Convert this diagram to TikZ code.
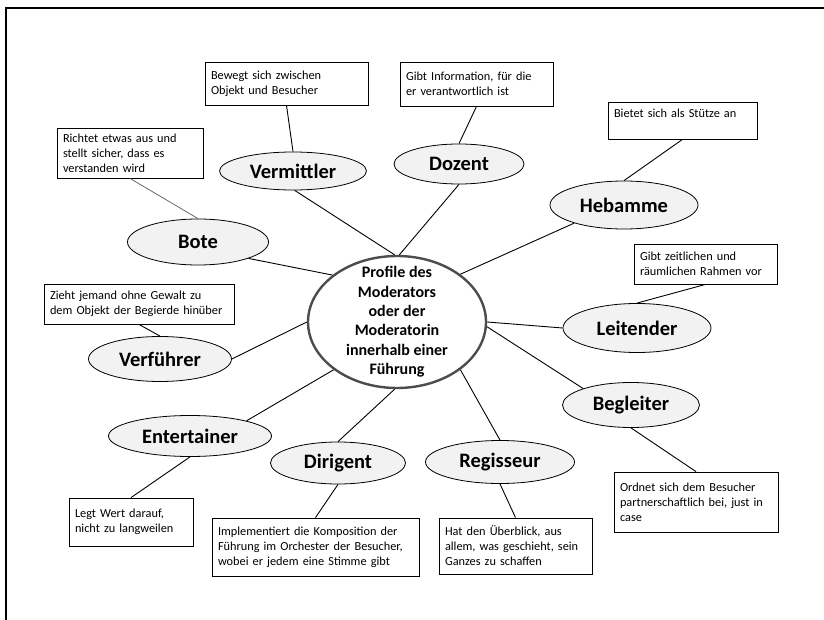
\documentclass[tikz,border=0pt]{standalone}
\usepackage{fontspec}
\setmainfont{Carlito}
\usetikzlibrary{shapes.geometric}

\begin{document}
\begin{tikzpicture}[
    x=1pt,y=-1pt,
    role/.style={ellipse,draw,fill=gray!10,line width=0.8pt,inner sep=0pt,font=\fontsize{20.5}{24}\selectfont\bfseries},
    note/.style={draw,line width=0.8pt,align=left,inner xsep=6pt,inner ysep=0pt,font=\fontsize{12.3}{15}\selectfont},
    hub/.style={ellipse,draw=gray!60!black,line width=2.4pt,fill=white,align=center,inner xsep=12pt,inner ysep=-12pt,font=\fontsize{16}{19.4}\selectfont\bfseries},
    link/.style={line width=0.9pt}
]
\useasboundingbox (0,0) rectangle (824,620);
\draw[line width=1.4pt] (6,620) -- (6,8) -- (824,8);

\node[hub,minimum width=178pt,minimum height=132pt] (prof) at (397,322) {Profile des\\Moderators\\oder der\\Moderatorin\\innerhalb einer\\Führung};

\node[role,minimum width=147pt,minimum height=38pt] (verm) at (293,171) {Vermittler};
\node[role,minimum width=130pt,minimum height=40pt] (doz) at (459,164) {Dozent};
\node[role,minimum width=148pt,minimum height=48pt] (heb) at (624,205) {Hebamme};
\node[role,minimum width=141pt,minimum height=46pt] (bote) at (198,242) {Bote};
\node[role,minimum width=148pt,minimum height=49pt] (leit) at (637,328) {Leitender};
\node[role,minimum width=143pt,minimum height=45pt] (verf) at (160,359) {Verführer};
\node[role,minimum width=137pt,minimum height=45pt] (begl) at (631,405) {Begleiter};
\node[role,minimum width=163pt,minimum height=41pt] (ent) at (190,436) {Entertainer};
\node[role,minimum width=135pt,minimum height=42pt] (dir) at (338,463) {Dirigent};
\node[role,minimum width=149pt,minimum height=43pt] (reg) at (500,462) {Regisseur};

\node[note,text width=151pt,minimum height=43pt] (vbox) at (286.5,83.5) {Bewegt sich zwischen\\Objekt und Besucher};
\node[note,text width=141pt,minimum height=44pt] (dbox) at (476.5,84) {Gibt Information, für die\\er verantwortlich ist};
\node[note,text width=137pt,minimum height=37pt] (hbox) at (682.5,120.5) {Bietet sich als Stütze an\\\mbox{}};
\node[note,text width=134pt,minimum height=50pt] (bbox) at (130,153) {Richtet etwas aus und\\stellt sicher, dass es\\verstanden wird};
\node[note,text width=178pt,minimum height=40pt] (vfbox) at (139,304) {Zieht jemand ohne Gewalt zu\\dem Objekt der Begierde hinüber};
\node[note,text width=131pt,minimum height=40pt] (lbox) at (705.5,264) {Gibt zeitlichen und\\räumlichen Rahmen vor};
\node[note,text width=152pt,minimum height=60pt] (bgbox) at (696,502) {Ordnet sich dem Besucher\\partnerschaftlich bei, just in\\case};
\node[note,text width=112pt,minimum height=48pt] (ebox) at (131,522) {Legt Wert darauf,\\nicht zu langweilen};
\node[note,text width=195pt,minimum height=58pt] (dibox) at (315.5,547) {Implementiert die Komposition der\\Führung im Orchester der Besucher,\\wobei er jedem eine Stimme gibt};
\node[note,text width=141pt,minimum height=56pt] (rbox) at (515.5,546) {Hat den Überblick, aus\\allem, was geschieht, sein\\Ganzes zu schaffen};

\draw[link] (prof.92) -- (verm.-85);
\draw[link] (prof.88) -- (doz.south);
\draw[link] (prof.37) -- (heb.200);
\draw[link] (prof.144) -- (bote.-18);
\draw[link] (prof.180) -- (verf.0);
\draw[link] (prof.0) -- (leit.180);
\draw[link] (prof.-3) -- (begl.161);
\draw[link] (prof.217) -- (ent.15);
\draw[link] (prof.268) -- (dir.north);
\draw[link] (prof.-37) -- (reg.north);

\draw[link] (vbox.south) -- (verm.north);
\draw[link] (dbox.south) -- (doz.north);
\draw[link] (hbox.south) -- (heb.north);
\draw[line width=0.7pt,gray!70!black] (bbox.south) -- (bote.north);
\draw[link] (vfbox.south) -- (verf.north);
\draw[link] (lbox.south) -- (leit.north);
\draw[link] (begl.south) -- (bgbox.north);
\draw[link] (ent.south) -- (ebox.north);
\draw[link] (dir.south) -- (dibox.north);
\draw[link] (reg.south) -- (rbox.north);
\end{tikzpicture}
\end{document}
